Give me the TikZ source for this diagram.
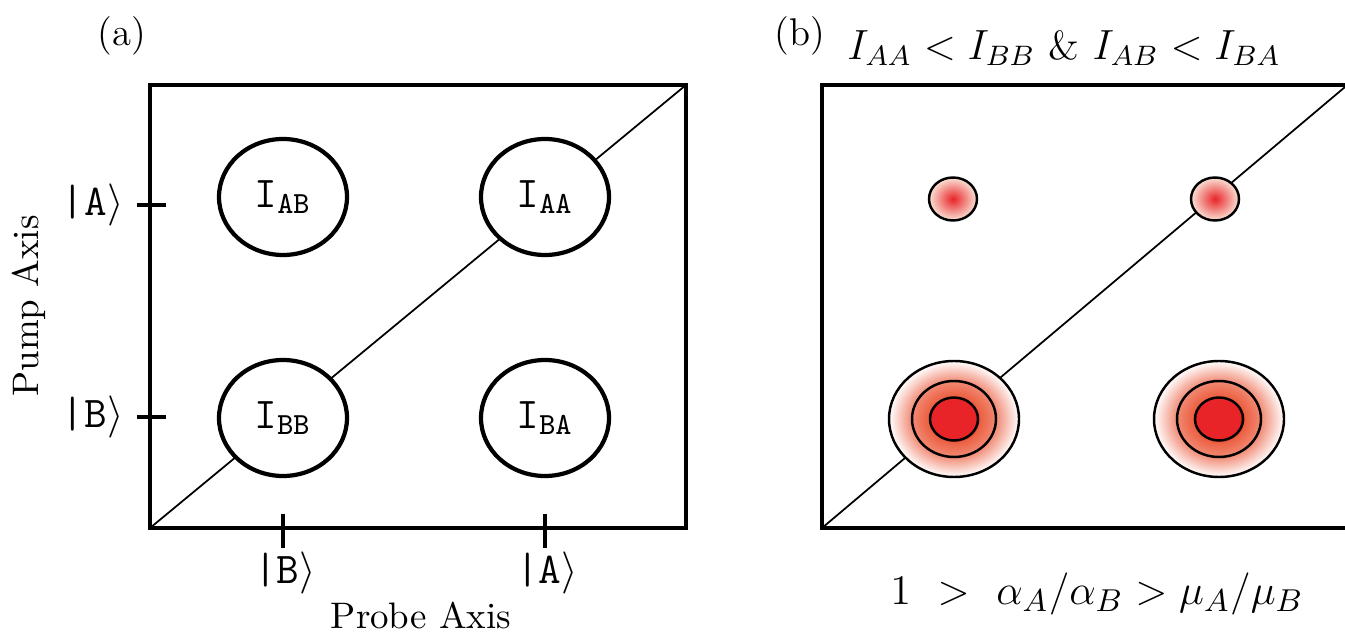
\documentclass[tikz,border=0pt]{standalone}
\usetikzlibrary{shapes.geometric,positioning}
\definecolor{spotred}{RGB}{232,36,40}
\definecolor{spotmid}{RGB}{236,96,66}
\definecolor{spotpale}{RGB}{250,226,214}
\pgfdeclareradialshading{bigspot}{\pgfpoint{0bp}{0bp}}{color(0bp)=(spotred);
  color(9bp)=(spotred); color(10bp)=(spotmid); color(16bp)=(spotmid!75!white);
  color(25bp)=(white); color(50bp)=(white)}
\pgfdeclareradialshading{smallspot}{\pgfpoint{0bp}{0bp}}{color(0bp)=(spotred);
  color(25bp)=(spotpale); color(50bp)=(spotpale)}

\begin{document}
\begin{tikzpicture}[
  frame/.style={line width=1.2pt},
  diag/.style={line width=0.5pt},
  peak/.style={ellipse,draw,line width=1.2pt,fill=white,minimum width=1.28cm,
               minimum height=1.16cm,inner sep=0pt,
               font=\ttfamily\fontsize{12.5}{14}\selectfont},
  ket/.style={font=\ttfamily\fontsize{12.5}{14}\selectfont},
  tickmark/.style={line width=1.2pt},
  axislab/.style={font=\fontsize{10.5}{12}\selectfont},
  ring/.style={line width=0.7pt}
]
\useasboundingbox (0,0) rectangle (13.45,6.35);

% panel (a)
\node[font=\fontsize{11}{13}\selectfont] (lab-a) at (1.22,5.99) {(a)};
\coordinate (a-sw) at (1.50,1.07);
\coordinate (a-ne) at (6.86,5.50);
\draw[diag] (a-sw) -- (a-ne);
\draw[frame] (a-sw) rectangle (a-ne);

\node[peak] (iab) at (2.83,4.38) {I\textsubscript{AB}};
\node[peak] (iaa) at (5.45,4.38) {I\textsubscript{AA}};
\node[peak] (ibb) at (2.83,2.17) {I\textsubscript{BB}};
\node[peak] (iba) at (5.45,2.17) {I\textsubscript{BA}};

% pump axis ticks
\coordinate (ta) at (1.50,4.30);
\coordinate (tb) at (1.50,2.18);
\draw[tickmark] ([xshift=-0.13cm]ta) -- ([xshift=0.16cm]ta);
\draw[tickmark] ([xshift=-0.13cm]tb) -- ([xshift=0.16cm]tb);
\node[ket,left=0.14cm of ta] (ka) {|A$\rangle$};
\node[ket,left=0.14cm of tb] (kb) {|B$\rangle$};

% probe axis ticks
\coordinate (pb) at (2.83,1.07);
\coordinate (pa) at (5.45,1.07);
\draw[tickmark] ([yshift=-0.20cm]pb) -- ([yshift=0.14cm]pb);
\draw[tickmark] ([yshift=-0.20cm]pa) -- ([yshift=0.14cm]pa);
\node[ket] (kpb) at (2.85,0.62) {|B$\rangle$};
\node[ket] (kpa) at (5.47,0.62) {|A$\rangle$};

\node[axislab] (probe) at (4.21,0.20) {Probe Axis};
\node[axislab,rotate=90] (pump) at (0.29,3.29) {Pump Axis};

% panel (b)
\node[font=\fontsize{11}{13}\selectfont] (lab-b) at (8.00,5.99) {(b)};
\node[font=\fontsize{11.5}{14}\selectfont] (cond) at (10.64,5.87)
  {$I_{AA} < I_{BB}$ \& $I_{AB} < I_{BA}$};
\node[font=\fontsize{13}{15}\selectfont] (ratio) at (10.97,0.41)
  {$1\ >\ \alpha_A/\alpha_B > \mu_A/\mu_B$};
\coordinate (b-sw) at (8.22,1.07);
\coordinate (b-ne) at (13.45,5.48);
\draw[diag] (b-sw) -- (b-ne);
\draw[frame] (13.60,5.50) -- (8.22,5.50) -- (8.22,1.07) -- (13.60,1.07);

% weak cross peaks
\foreach \nm/\x in {sab/9.53,saa/12.15}{
  \coordinate (\nm) at (\x,4.36);
  \draw[ring,shading=smallspot] (\nm) ellipse (0.24cm and 0.215cm);
}
% strong peaks
\foreach \nm/\x in {sbb/9.54,sba/12.19}{
  \coordinate (\nm) at (\x,2.16);
  \draw[ring,shading=bigspot] (\nm) ellipse (0.65cm and 0.58cm);
  \draw[ring] (\nm) ellipse (0.42cm and 0.38cm);
  \draw[ring,fill=spotred] (\nm) ellipse (0.24cm and 0.215cm);
}
\end{tikzpicture}
\end{document}
